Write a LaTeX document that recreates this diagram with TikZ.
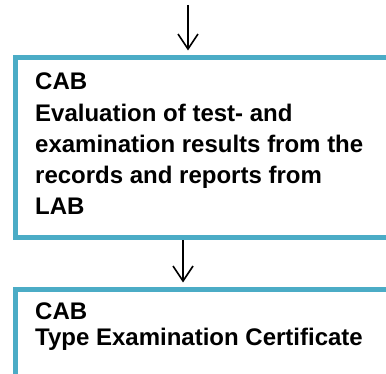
\documentclass[tikz,border=0pt]{standalone}
\usepackage{fontspec}
\setmainfont{Liberation Sans}
\usetikzlibrary{arrows.meta}
\definecolor{boxblue}{HTML}{4BACC6}
\tikzset{
  flowbox/.style={draw=boxblue, line width=5pt, fill=white, rectangle, anchor=north west, inner sep=0pt},
  boxtext/.style={anchor=base west, inner sep=0pt, text width=350pt, align=flush left},
  arr/.style={line width=1.6pt, -{Straight Barb[length=15pt, width=20pt, line width=1.6pt]}, shorten >=5pt}
}
\begin{document}
\begin{tikzpicture}[x=1pt,y=1pt]
\useasboundingbox (0,0) rectangle (386,-374);
\clip (0,0) rectangle (386,-374);
\node[flowbox, minimum width=420pt, minimum height=180pt] (box1) at (12.5,-55.5) {};
\node[flowbox, minimum width=420pt, minimum height=140pt] (box2) at (12.5,-287.5) {};
\node[boxtext, font={\bfseries\fontsize{24}{31.25}\selectfont}] (t1) at (35,-90) {CAB\\Evaluation of test- and\\examination results from the\\records and reports from\\LAB};
\node[boxtext, font={\bfseries\fontsize{24}{25}\selectfont}] (t2) at (35,-320) {CAB\\Type Examination Certificate};
\coordinate (s1) at (188,-5);
\coordinate (x2) at (183,0);
\draw[arr] (s1) -- (s1 |- box1.north);
\draw[arr] (box1.south -| x2) -- (box2.north -| x2);
\end{tikzpicture}
\end{document}
